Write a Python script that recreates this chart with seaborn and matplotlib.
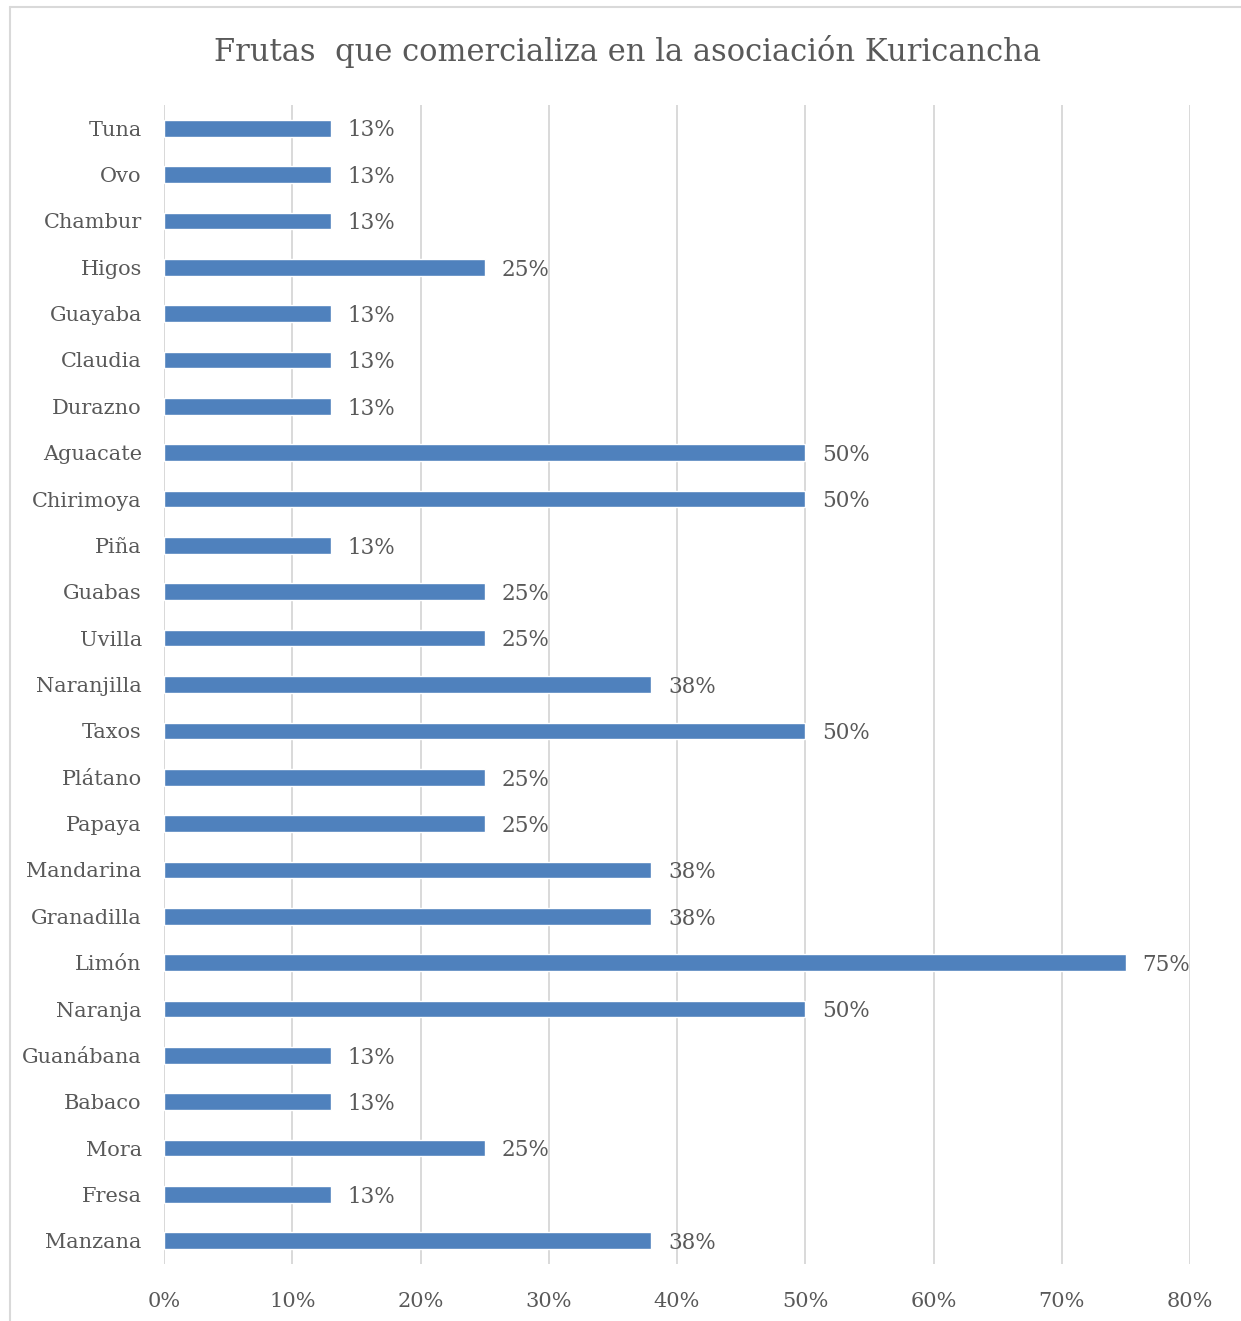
import pandas as pd
import matplotlib.pyplot as plt
import seaborn as sns
from matplotlib.lines import Line2D

# Data
frutas = ['Tuna', 'Ovo', 'Chambur', 'Higos', 'Guayaba', 'Claudia', 'Durazno',
          'Aguacate', 'Chirimoya', 'Piña', 'Guabas', 'Uvilla', 'Naranjilla',
          'Taxos', 'Plátano', 'Papaya', 'Mandarina', 'Granadilla', 'Limón',
          'Naranja', 'Guanábana', 'Babaco', 'Mora', 'Fresa', 'Manzana']
porcentajes = [13, 13, 13, 25, 13, 13, 13, 50, 50, 13, 25, 25, 38,
               50, 25, 25, 38, 38, 75, 50, 13, 13, 25, 13, 38]
xticks = [0, 10, 20, 30, 40, 50, 60, 70, 80]

df = pd.DataFrame({'Fruta': frutas, 'Porcentaje': porcentajes})

sns.set_style("white")
plt.rcParams['font.family'] = ['DejaVu Serif']
text_color = '#595959'
grid_color = '#d9d9d9'

fig = plt.figure(figsize=(12.41, 13.21), dpi=100)
ax = fig.add_axes([164 / 1241, 1 - 1264 / 1321, (1190 - 164) / 1241, (1264 - 105) / 1321])

sns.barplot(data=df, x='Porcentaje', y='Fruta', color='#4F81BD', width=0.36,
            saturation=1, orient='h', ax=ax)

ax.set_xlim(0, 80)
ax.set_ylim(len(frutas) - 0.5, -0.5)
ax.set_xticks(xticks)
ax.set_xticklabels([f'{v}%' for v in xticks])
ax.xaxis.grid(True, color=grid_color, linewidth=1.4)
ax.set_axisbelow(True)
for s in ax.spines.values():
    s.set_visible(False)
ax.axvline(0, color=grid_color, linewidth=1.4, zorder=0.5)
ax.set_xlabel('')
ax.set_ylabel('')
ax.tick_params(axis='both', length=0, labelsize=15, colors=text_color)
ax.tick_params(axis='y', pad=16)
ax.tick_params(axis='x', pad=20)

# Data labels
for i, v in enumerate(porcentajes):
    ax.text(v + 1.3, i + 0.05, f'{v}%', va='center', ha='left',
            fontsize=15.5, color=text_color)

fig.text(627 / 1241, 1 - 51 / 1321, 'Frutas  que comercializa en la asociación Kuricancha',
         ha='center', va='center', fontsize=22, color=text_color)

# Chart frame
fig.add_artist(Line2D([10 / 1241, 10 / 1241], [0, 1 - 7 / 1321], transform=fig.transFigure,
                      color=grid_color, linewidth=1.5))
fig.add_artist(Line2D([10 / 1241, 1], [1 - 7 / 1321, 1 - 7 / 1321], transform=fig.transFigure,
                      color=grid_color, linewidth=1.5))

plt.savefig('out.png', dpi=100)
